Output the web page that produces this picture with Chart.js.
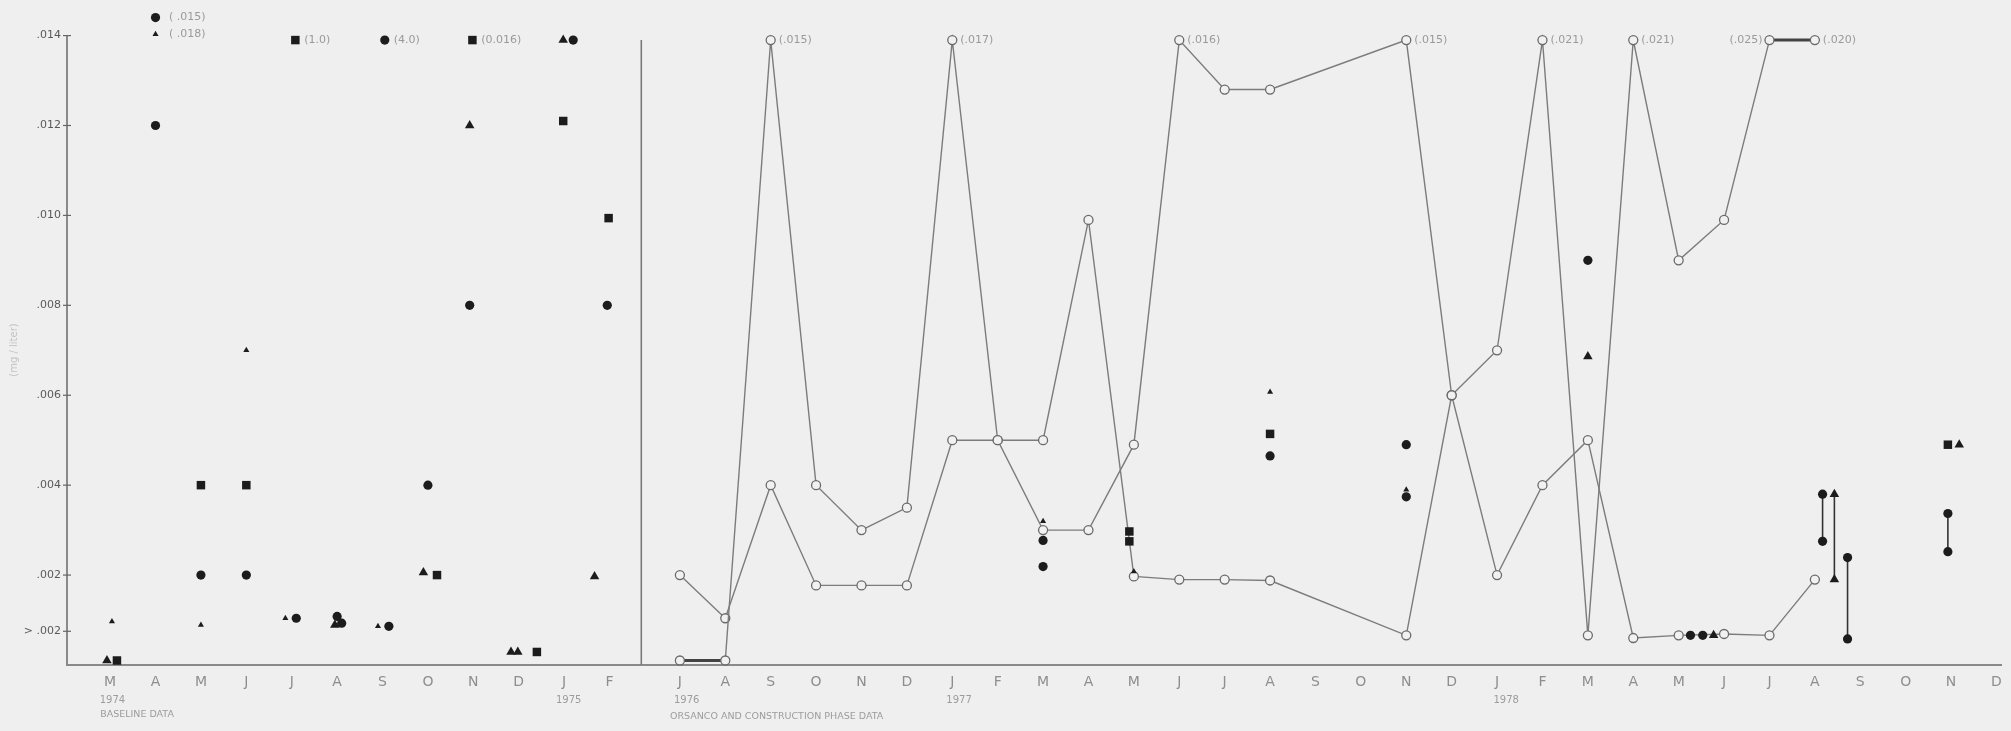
<!DOCTYPE html>
<html>
<head>
<meta charset="utf-8">
<script src="https://cdn.jsdelivr.net/npm/chart.js@4.4.1/dist/chart.umd.min.js"></script>
<style>
  html, body { margin: 0; padding: 0; background: #efefef; }
  #wrap { width: 2011px; height: 731px; }
</style>
</head>
<body>
<div id="wrap"><canvas id="c" width="2011" height="731"></canvas></div>
<script>
// baseline months: Mar 1974 .. Feb 1975 ; phase months: Jul 1976 .. Dec 1978
const baseMonths = ["M","A","M","J","J","A","S","O","N","D","J","F"]
const phaseMonths = ["J","A","S","O","N","D","J","F","M","A","M","J","J","A","S","O","N","D",
                     "J","F","M","A","M","J","J","A","S","O","N","D"]
const PHASE0 = 12.55   // where the second block starts on the month axis

const yTickValues = [0.00075, 0.002, 0.004, 0.006, 0.008, 0.010, 0.012, 0.014]
const yTickLabels = ["> .002", ".002", ".004", ".006", ".008", ".010", ".012", ".014"]

const yearTexts = ["1974", "1975", "1976", "1977", "1978"]
const yearSec   = [0, 0, 1, 1, 1]
const yearMonth = [0.05, 10.1, 0.15, 6.15, 18.2]

// the two connected ORSANCO series (null = no sample)
const lineP = [0.0001, 0.0001, 0.0139, 0.004, 0.003, 0.0035, 0.0139, 0.005, 0.005, 0.0099,
               0.00197, 0.0019, 0.0019, 0.00188, null, null, 0.00066, 0.006, 0.002, 0.004,
               0.005, 0.0006, 0.00066, 0.00069, 0.00066, 0.0019, null, null, null, null]
const lineQ = [0.002, 0.00104, 0.004, 0.00177, 0.00177, 0.00177, 0.005, 0.005, 0.003, 0.003,
               0.0049, 0.0139, 0.0128, 0.0128, null, null, 0.0139, 0.006, 0.007, 0.0139,
               0.00066, 0.0139, 0.009, 0.0099, 0.0139, 0.0139, null, null, null, null]

// off-scale notes  [section, month, value, text]
const notes = [
  [0, 1.12, 0.0144, "( .015)"], [0, 1.12, 0.01403, "( .018)"], [0, 4.1, 0.0139, "(1.0)"],
  [0, 6.07, 0.0139, "(4.0)"], [0, 8.0, 0.0139, "(0.016)"],
  [1, 2, 0.0139, "(.015)"], [1, 6, 0.0139, "(.017)"], [1, 11, 0.0139, "(.016)"],
  [1, 16, 0.0139, "(.015)"], [1, 19, 0.0139, "(.021)"], [1, 21, 0.0139, "(.021)"],
  [1, 24, 0.0139, "(.025)"], [1, 25, 0.0139, "(.020)"]
]
const leftNotes = ["(.025)"]

// baseline scatter  [month, value]
const baseDots = [[1, 0.012], [1, 0.0144], [2, 0.002], [3, 0.002], [4.1, 0.00104], [5.0, 0.00108],
                  [5.1, 0.00093], [6.14, 0.00086], [6.05, 0.0139], [7, 0.004], [7.92, 0.008],
                  [10.2, 0.0139], [10.95, 0.008]]
const baseSquares = [[2, 0.004], [3, 0.004], [4.08, 0.0139], [0.15, 0.0001], [7.2, 0.002],
                     [7.98, 0.0139], [9.4, 0.00029], [9.98, 0.0121], [10.98, 0.00994]]
const baseTri = [[-0.07, 0.0001], [6.9, 0.00206], [7.92, 0.012], [8.83, 0.00029], [8.98, 0.00029],
                 [9.98, 0.0139], [10.67, 0.00197], [4.95, 0.00089]]
const baseTriSmall = [[0.04, 0.00097], [1, 0.01403], [2, 0.00089], [3, 0.007], [3.86, 0.00104], [5.9, 0.00086]]

// construction phase scatter  [month, value]
const phaseDots = [[8, 0.00277], [8, 0.00219], [13, 0.00465], [16, 0.0049], [16, 0.00374],
                   [20, 0.009], [22.26, 0.00066], [22.53, 0.00066], [25.17, 0.0038], [25.17, 0.00275],
                   [25.72, 0.00239], [25.72, 0.00058], [27.93, 0.00337], [27.93, 0.00252]]
const phaseSquares = [[9.9, 0.00297], [9.9, 0.00275], [13, 0.00514], [27.93, 0.0049]]
const phaseTri = [[20, 0.00686], [22.77, 0.00066], [25.43, 0.0038], [25.43, 0.0019], [28.18, 0.0049]]
const phaseTriSmall = [[8, 0.0032], [10, 0.00208], [13, 0.00607], [16, 0.0039]]
// min/max ranges  [month, low, high]
const phaseRanges = [[25.17, 0.00275, 0.0038], [25.43, 0.0019, 0.0038], [25.72, 0.00058, 0.00239], [27.93, 0.00252, 0.00337]]

const INK = "#1c1c1c", LINE = "#7c7c7c", PAPER = "#f1f1f1", TEXT = "#8e8e8e", AXIS = "#8a8a8a"

const bx = m => m
const px = m => PHASE0 + m
const pts = (arr, f) => arr.map(([m, v]) => ({ x: f(m), y: v }))

const monthTicks = baseMonths.map((_, i) => bx(i)).concat(phaseMonths.map((_, i) => px(i)))
const monthLetters = baseMonths.concat(phaseMonths)

const marker = (data, style, r) => ({
  data, pointStyle: style, pointRadius: r, pointBackgroundColor: INK, pointBorderColor: INK,
  pointBorderWidth: 0, showLine: false, clip: false
})
const flatEnd = c => c.p0.parsed.y === c.p1.parsed.y && (c.p0.parsed.y < 0.0005 || c.p0.parsed.y > 0.0138)
const openLine = vals => ({
  data: vals.map((v, i) => ({ x: px(i), y: v })),
  showLine: true, spanGaps: true, borderColor: LINE, borderWidth: 1.4,
  pointStyle: "circle", pointRadius: 4.5, pointBackgroundColor: PAPER,
  pointBorderColor: "#6a6a6a", pointBorderWidth: 1.3, clip: false,
  segment: {
    borderWidth: c => flatEnd(c) ? 3 : 1.4,
    borderColor: c => flatEnd(c) ? "#444" : LINE
  }
})

const datasets = [
  marker(pts(baseDots, bx).concat(pts(phaseDots, px)), "circle", 4.6),
  marker(pts(baseSquares, bx).concat(pts(phaseSquares, px)), "rect", 6),
  marker(pts(baseTri, bx).concat(pts(phaseTri, px)), "triangle", 5.5),
  marker(pts(baseTriSmall, bx).concat(pts(phaseTriSmall, px)), "triangle", 3.5),
  ...phaseRanges.map(([m, lo, hi]) => ({
    data: [{ x: px(m), y: lo }, { x: px(m), y: hi }], showLine: true, borderColor: "#333",
    borderWidth: 1.6, pointRadius: 0, clip: false
  })),
  openLine(lineP),
  openLine(lineQ)
]

const decor = {
  id: "decor",
  afterDraw(chart) {
    const { ctx, scales: { x, y } } = chart
    ctx.save()
    // y axis line only up to .014
    ctx.strokeStyle = AXIS; ctx.lineWidth = 2
    ctx.beginPath()
    ctx.moveTo(x.left, y.getPixelForValue(0.014)); ctx.lineTo(x.left, y.bottom + 1)
    ctx.stroke()

    // divider between baseline and construction phase
    ctx.strokeStyle = "#7a7a7a"; ctx.lineWidth = 1.6
    ctx.beginPath()
    ctx.moveTo(x.getPixelForValue(11.7), y.getPixelForValue(0.0139))
    ctx.lineTo(x.getPixelForValue(11.7), y.bottom)
    ctx.stroke()

    // little cross ticks on the y axis
    ctx.strokeStyle = "#666"; ctx.lineWidth = 1.2
    yTickValues.forEach(v => {
      const yy = y.getPixelForValue(v)
      ctx.beginPath(); ctx.moveTo(x.left - 4, yy); ctx.lineTo(x.left + 4, yy); ctx.stroke()
    })

    // off-scale values
    ctx.fillStyle = "#9a9a9a"; ctx.font = "11px 'DejaVu Sans'"; ctx.textBaseline = "middle"
    notes.forEach(([sec, m, v, t]) => {
      const xx = x.getPixelForValue(sec ? px(m) : bx(m)), yy = y.getPixelForValue(v)
      if (leftNotes.includes(t)) { ctx.textAlign = "right"; ctx.fillText(t, xx - 7, yy) }
      else { ctx.textAlign = "left"; ctx.fillText(t, xx + 8, yy) }
    })

    // years + block captions under the month letters
    ctx.fillStyle = "#9c9c9c"; ctx.textAlign = "center"; ctx.font = "10px 'DejaVu Sans'"
    yearTexts.forEach((t, i) => {
      const m = yearSec[i] ? px(yearMonth[i]) : bx(yearMonth[i])
      ctx.fillText(t, x.getPixelForValue(m), 700)
    })
    ctx.textAlign = "left"; ctx.font = "9.5px 'DejaVu Sans'"
    ctx.fillText("BASELINE DATA", x.getPixelForValue(bx(-0.22)), 715)
    ctx.fillText("ORSANCO AND CONSTRUCTION PHASE DATA", x.getPixelForValue(px(-0.22)), 717)

    // faint axis caption
    ctx.translate(14, 350); ctx.rotate(-Math.PI / 2)
    ctx.textAlign = "center"; ctx.fillStyle = "#c2c2c2"; ctx.font = "10px 'DejaVu Sans'"
    ctx.fillText("(mg / liter)", 0, 0)
    ctx.restore()
  }
}

new Chart(document.getElementById("c").getContext("2d"), {
  type: "scatter",
  data: { datasets },
  options: {
    responsive: false, animation: false,
    layout: { padding: { top: 8, right: 10, left: 0, bottom: 0 } },
    plugins: { legend: { display: false }, tooltip: { enabled: false } },
    scales: {
      x: {
        type: "linear", min: -0.95, max: 41.65,
        afterFit: s => { s.height = 66 },
        afterBuildTicks: s => { s.ticks = monthTicks.map(v => ({ value: v })) },
        ticks: {
          autoSkip: false, maxRotation: 0, padding: 9, color: TEXT,
          font: { family: "DejaVu Sans", size: 14 },
          callback: (v, i) => monthLetters[i]
        },
        grid: { display: false, drawTicks: false },
        border: { color: AXIS, width: 2 }
      },
      y: {
        min: 0, max: 0.0146,
        afterFit: s => { s.width = 67 },
        afterBuildTicks: s => { s.ticks = yTickValues.map(v => ({ value: v })) },
        ticks: {
          padding: 2, color: "#5a5a5a",
          font: { family: "DejaVu Sans", size: 11 },
          callback: (v, i) => yTickLabels[i]
        },
        grid: { display: false, tickLength: 4 },
        border: { display: false }
      }
    }
  },
  plugins: [decor]
})
</script>
</body>
</html>
